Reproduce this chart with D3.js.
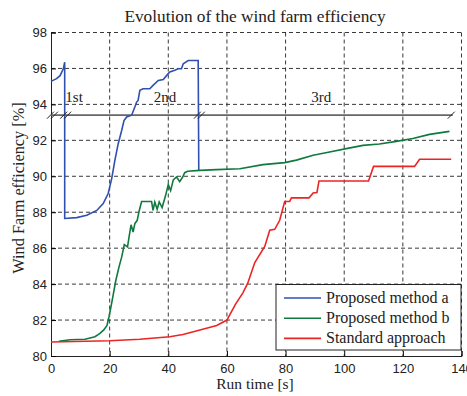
<!DOCTYPE html>
<html lang="en">
<head>
<meta charset="utf-8">
<title>Evolution of the wind farm efficiency</title>
<script src="https://cdn.jsdelivr.net/npm/d3@7"></script>
<style>
  body { margin: 0; background: #fff; }
  .tick text { font-family: "Liberation Sans", Arial, sans-serif; font-size: 13px; fill: #222; }
  .grid line { stroke: #222; stroke-dasharray: 4,3; stroke-width: 0.9; }
  .serif { font-family: "Liberation Serif", "Times New Roman", serif; fill: #222; }
</style>
</head>
<body>
<script>
// chart data (x = run time [s], y = efficiency [%])
var xTicks = [0, 20, 40, 60, 80, 100, 120, 140];
var yTicks = [80, 82, 84, 86, 88, 90, 92, 94, 96, 98];
var seriesNames = ["Proposed method a", "Proposed method b", "Standard approach"];
var seriesColors = ["#3050b0", "#0f7a3e", "#ee2424"];
var phaseLabels = [["1st", 4.9], ["2nd", 35.0], ["3rd", 88.8]];
var breakValue = 93.4;

var methodA = [
  [0, 95.28], [1.9, 95.43], [3.1, 95.6], [4.2, 95.98], [4.67, 96.35],
  [4.67, 87.65], [8.75, 87.7], [12.2, 87.83], [15.6, 88.1], [17.8, 88.48],
  [19.5, 89.04], [20.7, 89.87], [21.8, 90.9], [22.9, 91.8], [24.1, 92.55],
  [24.9, 93.1], [25.8, 93.3], [27.5, 93.4], [28.6, 93.85], [29.2, 94.13],
  [29.7, 94.22], [30.3, 94.78], [31.4, 94.87], [33.7, 94.87], [34.8, 95.06],
  [36.6, 95.33], [38.3, 95.39], [39.4, 95.6], [40.5, 95.8], [42.2, 95.9],
  [43.4, 95.98], [44.5, 95.98], [45.1, 96.26], [46.8, 96.44], [50.2, 96.44],
  [50.4, 90.33]
];

var methodB = [
  [2.7, 80.82], [6.5, 80.9], [11.6, 80.93], [15, 81.07], [16.7, 81.26],
  [18, 81.45], [19.1, 81.7], [19.8, 82.2], [20.4, 82.7], [21.1, 83.3],
  [22.1, 84.2], [23.2, 84.96], [24.1, 85.5], [25.0, 86.2], [26.1, 86.07],
  [26.6, 86.6], [27.3, 87.3], [28.0, 86.9], [28.6, 87.37], [29.4, 87.55],
  [30.1, 88.1], [30.9, 88.6], [34.3, 88.6], [34.8, 88.1], [35.4, 88.57],
  [36.2, 88.17], [36.9, 88.57], [37.9, 88.26], [39.1, 88.94], [40.0, 89.55],
  [40.8, 89.2], [41.7, 89.8], [42.8, 89.96], [43.9, 89.7], [44.9, 89.96],
  [45.6, 90.2], [46.6, 90.28], [50.8, 90.33], [56.4, 90.37], [64.4, 90.42],
  [72.3, 90.65], [79.7, 90.76], [83.7, 90.9], [89.4, 91.17], [95, 91.35],
  [100.7, 91.54], [106.4, 91.72], [112, 91.8], [117.8, 91.94], [123.4, 92.1],
  [129.1, 92.33], [135.9, 92.5]
];

var standard = [
  [0, 80.78], [20, 80.85], [30.3, 80.93], [40.5, 81.07], [45, 81.2],
  [50.8, 81.45], [56.5, 81.7], [60, 82.0], [61, 82.3], [63, 82.9],
  [65.4, 83.5], [67.1, 84.05], [69.5, 85.2], [72.9, 86.1], [74.6, 87.0],
  [76.3, 87.05], [78, 87.55], [79.7, 88.6], [81.4, 88.6], [82, 88.8],
  [88, 88.8], [89.4, 89.07], [90.7, 89.1], [91.4, 89.74], [108.3, 89.74],
  [110, 90.55], [124, 90.55], [125.7, 90.95], [136.5, 90.95]
];

var allSeries = [methodA, methodB, standard];

var W = 467, H = 396;
var plotL = 51, plotR = 461.5, plotT = 32.5, plotB = 356;

var svg = d3.select("body").append("svg")
  .attr("width", W).attr("height", H);

var x = d3.scaleLinear().domain([0, 140]).range([plotL, plotR]);
var y = d3.scaleLinear().domain([80, 98]).range([plotB, plotT]);

// grid
var grid = svg.append("g").attr("class", "grid");
grid.selectAll(".vx").data(xTicks.slice(1)).enter().append("line")
  .attr("x1", function(d) { return x(d); }).attr("x2", function(d) { return x(d); })
  .attr("y1", plotT).attr("y2", plotB);
grid.selectAll(".hy").data(yTicks.slice(1)).enter().append("line")
  .attr("x1", plotL).attr("x2", plotR)
  .attr("y1", function(d) { return y(d); }).attr("y2", function(d) { return y(d); });

// axes
var xAxis = d3.axisBottom(x).tickValues(xTicks).tickSize(-5).tickPadding(8);
var yAxis = d3.axisLeft(y).tickValues(yTicks).tickSize(-5).tickPadding(4);

svg.append("g").attr("transform", "translate(0," + plotB + ")").call(xAxis)
  .call(function(g) { g.select(".domain").attr("stroke", "#222"); });
svg.append("g").attr("transform", "translate(" + plotL + ",0)").call(yAxis)
  .call(function(g) { g.select(".domain").attr("stroke", "#222"); });

// axis break line
svg.append("line")
  .attr("x1", plotL).attr("x2", x(137))
  .attr("y1", y(breakValue)).attr("y2", y(breakValue))
  .attr("stroke", "#666").attr("stroke-width", 1.6);

// series
var line = d3.line()
  .x(function(d) { return x(d[0]); })
  .y(function(d) { return y(d[1]); });

svg.selectAll(".series").data(allSeries).enter().append("path")
  .attr("d", line)
  .attr("fill", "none")
  .attr("stroke", function(d, i) { return seriesColors[i]; })
  .attr("stroke-width", 1.6);

// break marks
function slashes(xv, n) {
  for (var k = 0; k < n; k++) {
    var cx = x(xv) + k * 4 - (n - 1) * 2;
    svg.append("line")
      .attr("x1", cx - 3.5).attr("y1", y(breakValue) + 3.5)
      .attr("x2", cx + 3.5).attr("y2", y(breakValue) - 3.5)
      .attr("stroke", "#222").attr("stroke-width", 1);
  }
}
slashes(0.5, 2);
slashes(5.0, 2);
slashes(50.6, 2);
slashes(136.5, 1);

// phase labels
svg.selectAll(".phase").data(phaseLabels).enter().append("text")
  .attr("class", "serif")
  .attr("x", function(d) { return x(d[1]); })
  .attr("y", 101.5)
  .attr("font-size", "15px")
  .text(function(d) { return d[0]; });

// title and axis labels
svg.append("text").attr("class", "serif")
  .attr("x", 255).attr("y", 22).attr("text-anchor", "middle")
  .attr("font-size", "17.3px")
  .text("Evolution of the wind farm efficiency");

svg.append("text").attr("class", "serif")
  .attr("x", 255).attr("y", 389).attr("text-anchor", "middle")
  .attr("font-size", "15.5px")
  .text("Run time [s]");

svg.append("text").attr("class", "serif")
  .attr("transform", "translate(24,188) rotate(-90)")
  .attr("text-anchor", "middle")
  .attr("font-size", "16.3px")
  .text("Wind Farm efficiency [%]");

// legend
var lg = svg.append("g").attr("transform", "translate(276,284.5)");
lg.append("rect").attr("width", 185).attr("height", 65.5)
  .attr("fill", "#fff").attr("stroke", "#222").attr("stroke-width", 1);
lg.selectAll(".item").data(seriesNames).enter().append("line")
  .attr("x1", 8).attr("x2", 45)
  .attr("y1", function(d, i) { return 13.5 + i * 20.2; })
  .attr("y2", function(d, i) { return 13.5 + i * 20.2; })
  .attr("stroke", function(d, i) { return seriesColors[i]; })
  .attr("stroke-width", 1.6);
lg.selectAll(".label").data(seriesNames).enter().append("text")
  .attr("class", "serif")
  .attr("x", 50)
  .attr("y", function(d, i) { return 18.5 + i * 20.2; })
  .attr("font-size", "16px")
  .text(function(d) { return d; });
</script>
</body>
</html>
